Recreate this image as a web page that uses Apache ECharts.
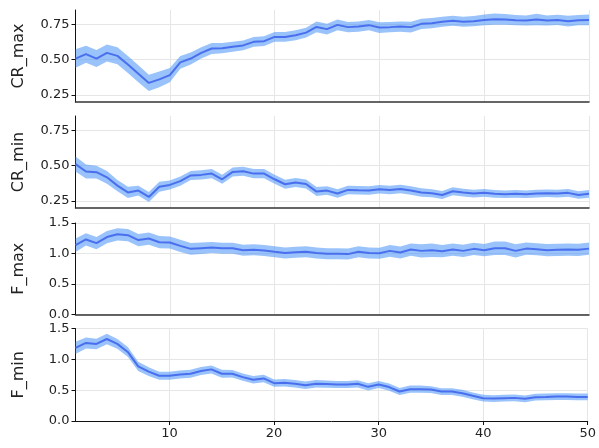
<!DOCTYPE html>
<html>
<head>
<meta charset="utf-8">
<script src="https://cdn.jsdelivr.net/npm/echarts@6/dist/echarts.min.js"></script>
<style>
  html, body { margin: 0; padding: 0; background: #fff; }
  #chart { width: 599px; height: 448px; }
</style>
</head>
<body>
<div id="chart"></div>
<script>
// generation index on the x axis
const steps = ['1', '2', '3', '4', '5', '6', '7', '8', '9', '10', '11', '12', '13', '14', '15', '16', '17', '18', '19', '20',
  '21', '22', '23', '24', '25', '26', '27', '28', '29', '30', '31', '32', '33', '34', '35', '36', '37', '38', '39', '40',
  '41', '42', '43', '44', '45', '46', '47', '48', '49', '50'];
const xTicks = ['10', '20', '30', '40', '50'];

// mean values per panel
const crMax = [0.507, 0.538, 0.507, 0.547, 0.526, 0.465, 0.40, 0.335, 0.36, 0.39,
  0.48, 0.507, 0.547, 0.578, 0.58, 0.59, 0.60, 0.625, 0.63, 0.66,
  0.66, 0.672, 0.69, 0.73, 0.715, 0.745, 0.729, 0.733, 0.743, 0.726,
  0.729, 0.733, 0.729, 0.752, 0.757, 0.767, 0.774, 0.767, 0.771, 0.78,
  0.785, 0.783, 0.778, 0.776, 0.783, 0.776, 0.78, 0.771, 0.778, 0.78];
const crMin = [0.51, 0.458, 0.453, 0.417, 0.358, 0.31, 0.323, 0.278, 0.35, 0.363,
  0.39, 0.43, 0.434, 0.443, 0.403, 0.455, 0.46, 0.443, 0.443, 0.403,
  0.368, 0.38, 0.37, 0.316, 0.323, 0.302, 0.328, 0.325, 0.323, 0.333,
  0.328, 0.335, 0.323, 0.309, 0.304, 0.292, 0.318, 0.309, 0.302, 0.307,
  0.30, 0.297, 0.30, 0.297, 0.302, 0.304, 0.302, 0.307, 0.292, 0.30];
const fMax = [1.136, 1.23, 1.17, 1.27, 1.315, 1.30, 1.22, 1.245, 1.185, 1.18,
  1.125, 1.076, 1.087, 1.098, 1.087, 1.087, 1.054, 1.06, 1.05, 1.027,
  1.01, 1.02, 1.027, 1.01, 0.995, 0.995, 0.99, 1.03, 1.01, 1.005,
  1.043, 1.016, 1.065, 1.043, 1.054, 1.038, 1.065, 1.043, 1.076, 1.054,
  1.087, 1.087, 1.043, 1.08, 1.07, 1.054, 1.06, 1.065, 1.06, 1.08];
const fMin = [1.185, 1.266, 1.25, 1.33, 1.25, 1.12, 0.886, 0.80, 0.734, 0.734,
  0.755, 0.766, 0.81, 0.837, 0.766, 0.766, 0.712, 0.668, 0.69, 0.614,
  0.62, 0.603, 0.58, 0.603, 0.598, 0.592, 0.592, 0.603, 0.554, 0.592,
  0.55, 0.478, 0.516, 0.516, 0.51, 0.478, 0.478, 0.45, 0.408, 0.37,
  0.364, 0.37, 0.375, 0.36, 0.386, 0.39, 0.397, 0.397, 0.39, 0.39];

// half-width of the shaded band per point
const crMaxCi = [0.065, 0.06, 0.06, 0.06, 0.06, 0.06, 0.06, 0.058, 0.055, 0.05,
  0.045, 0.042, 0.04, 0.038, 0.036, 0.035, 0.035, 0.035, 0.035, 0.035,
  0.035, 0.035, 0.035, 0.038, 0.038, 0.038, 0.036, 0.036, 0.036, 0.038,
  0.036, 0.036, 0.038, 0.036, 0.036, 0.036, 0.036, 0.036, 0.036, 0.038,
  0.04, 0.038, 0.036, 0.036, 0.04, 0.036, 0.036, 0.038, 0.036, 0.038];
const crMinCi = [0.053, 0.05, 0.045, 0.045, 0.04, 0.04, 0.035, 0.035, 0.035, 0.032,
  0.032, 0.032, 0.032, 0.032, 0.032, 0.032, 0.032, 0.032, 0.032, 0.032,
  0.032, 0.032, 0.032, 0.032, 0.03, 0.03, 0.03, 0.03, 0.03, 0.03,
  0.03, 0.03, 0.03, 0.03, 0.028, 0.028, 0.028, 0.027, 0.027, 0.027,
  0.027, 0.027, 0.027, 0.027, 0.027, 0.027, 0.027, 0.027, 0.027, 0.027];
const fMaxCi = [0.11, 0.1, 0.1, 0.1, 0.1, 0.1, 0.1, 0.1, 0.1, 0.1,
  0.1, 0.095, 0.095, 0.09, 0.09, 0.09, 0.09, 0.09, 0.09, 0.09,
  0.09, 0.09, 0.09, 0.09, 0.09, 0.09, 0.09, 0.09, 0.09, 0.09,
  0.095, 0.1, 0.1, 0.11, 0.11, 0.1, 0.1, 0.1, 0.1, 0.1,
  0.11, 0.11, 0.11, 0.1, 0.1, 0.1, 0.1, 0.1, 0.1, 0.1];
const fMinCi = [0.1, 0.09, 0.085, 0.085, 0.08, 0.08, 0.075, 0.07, 0.065, 0.065,
  0.065, 0.065, 0.065, 0.065, 0.065, 0.06, 0.06, 0.06, 0.06, 0.06,
  0.06, 0.06, 0.06, 0.06, 0.058, 0.058, 0.058, 0.058, 0.058, 0.058,
  0.058, 0.058, 0.058, 0.058, 0.055, 0.055, 0.055, 0.055, 0.055, 0.055,
  0.055, 0.055, 0.055, 0.055, 0.055, 0.055, 0.055, 0.055, 0.055, 0.055];

const crTicks = [0.25, 0.5, 0.75];
const fTicks = [0, 0.5, 1.0, 1.5];

const panels = [
  { name: 'CR_max', mean: crMax, ci: crMaxCi, min: 0.2, max: 0.85, ticks: crTicks, dec: 2, top: 10, height: 92 },
  { name: 'CR_min', mean: crMin, ci: crMinCi, min: 0.2, max: 0.85, ticks: crTicks, dec: 2, top: 116, height: 92 },
  { name: 'F_max', mean: fMax, ci: fMaxCi, min: 0, max: 1.5, ticks: fTicks, dec: 1, top: 223, height: 91.5 },
  { name: 'F_min', mean: fMin, ci: fMinCi, min: 0, max: 1.5, ticks: fTicks, dec: 1, top: 328.5, height: 92.5 }
];

const font = 'DejaVu Sans';
const lineColor = '#4a6fee';
const bandColor = 'rgba(70,145,245,0.55)';
const gridColor = '#e6e6e6';
const onTick = (idx, val) => xTicks.indexOf(val) >= 0;

const grid = [], xAxis = [], yAxis = [], series = [];

panels.forEach((p, i) => {
  const last = i === panels.length - 1;
  grid.push({ left: 75.5, right: 10, top: p.top, height: p.height });
  xAxis.push({
    type: 'category', gridIndex: i, data: steps, boundaryGap: false,
    axisLine: { show: true, onZero: false, lineStyle: { color: last ? '#111' : '#333', width: last ? 1 : 1.5 } },
    axisTick: { show: last, length: 4, interval: onTick, lineStyle: { color: '#111' } },
    axisLabel: { show: last, interval: onTick, fontFamily: font, fontSize: 13, color: '#222', margin: 6 },
    splitLine: { show: true, interval: onTick, lineStyle: { color: gridColor, width: 1 } }
  });
  yAxis.push({
    type: 'value', gridIndex: i, min: p.min, max: p.max,
    name: p.name, nameLocation: 'middle', nameGap: 49,
    nameTextStyle: { fontFamily: font, fontSize: 16, color: '#222' },
    axisLine: { show: true, lineStyle: { color: '#111', width: 1 } },
    axisTick: { show: true, length: 4, customValues: p.ticks, lineStyle: { color: '#111' } },
    axisLabel: {
      customValues: p.ticks, fontFamily: font, fontSize: 13, color: '#222', margin: 6,
      formatter: v => Number(v).toFixed(p.dec)
    },
    splitLine: { show: true, lineStyle: { color: gridColor, width: 1 } }
  });

  const lower = p.mean.map((m, k) => m - p.ci[k]);
  const span = p.ci.map(c => 2 * c);

  series.push({
    type: 'line', xAxisIndex: i, yAxisIndex: i, data: lower, stack: 'band' + i,
    symbol: 'none', silent: true, lineStyle: { width: 0, opacity: 0 }
  });
  series.push({
    type: 'line', xAxisIndex: i, yAxisIndex: i, data: span, stack: 'band' + i,
    symbol: 'none', silent: true, lineStyle: { width: 0, opacity: 0 },
    areaStyle: { color: bandColor, opacity: 1 }
  });
  series.push({
    type: 'line', xAxisIndex: i, yAxisIndex: i, data: p.mean,
    symbol: 'none', silent: true, lineStyle: { color: lineColor, width: 2 }
  });
});

const chart = echarts.init(document.getElementById('chart'), null, { renderer: 'canvas' });
chart.setOption({
  animation: false,
  backgroundColor: '#fff',
  grid: grid,
  xAxis: xAxis,
  yAxis: yAxis,
  series: series
});
</script>
</body>
</html>
